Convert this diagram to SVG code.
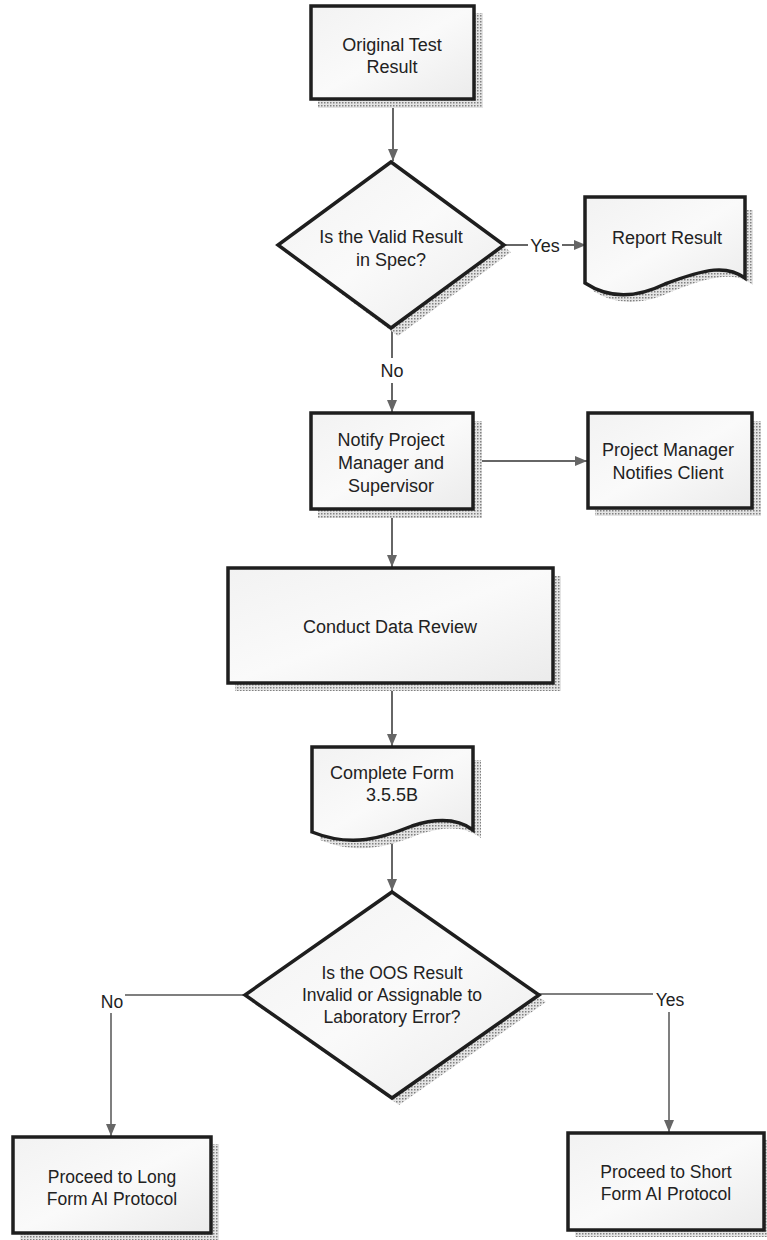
<svg xmlns="http://www.w3.org/2000/svg" width="767" height="1240" viewBox="0 0 767 1240">
<defs>
<style>
.box{fill:url(#fillg);stroke:#1e1e1e;stroke-width:3.5;stroke-linejoin:miter}
.shadow{fill:url(#dots);stroke:none}
.t{font-family:"Liberation Sans",Arial,sans-serif;font-size:18px;fill:#222;text-anchor:middle}
.t2{font-family:"Liberation Sans",Arial,sans-serif;font-size:17.5px;fill:#222;text-anchor:middle}
.c{stroke:#666;stroke-width:2;fill:none}
.thin{stroke:#555;stroke-width:1.5;fill:none}
</style>
<linearGradient id="fillg" x1="0" y1="0" x2="1" y2="1">
<stop offset="0" stop-color="#f2f2f2"/>
<stop offset="0.5" stop-color="#fafafa"/>
<stop offset="1" stop-color="#ebebeb"/>
</linearGradient>
<pattern id="dots" width="3" height="3" patternUnits="userSpaceOnUse">
<rect width="3" height="3" fill="#e4e4e4"/>
<rect width="1.5" height="1.5" fill="#808080"/>
</pattern>
<marker id="arr" viewBox="0 0 12 10" refX="12" refY="5" markerWidth="12" markerHeight="10" orient="auto" markerUnits="userSpaceOnUse">
<path d="M0,0 L12,5 L0,10 z" fill="#666"/>
</marker>
</defs>
<rect width="767" height="1240" fill="#fff"/>

<g id="connectors">
<line class="c" x1="393" y1="101" x2="393" y2="161" marker-end="url(#arr)"/>
<line class="c" x1="505" y1="245" x2="528" y2="245"/>
<line class="c" x1="562" y1="245" x2="586" y2="245" marker-end="url(#arr)"/>
<line class="c" x1="392" y1="330" x2="392" y2="358"/>
<line class="c" x1="392" y1="383" x2="392" y2="412" marker-end="url(#arr)"/>
<line class="c" x1="475" y1="461" x2="587" y2="461" marker-end="url(#arr)"/>
<line class="c" x1="392" y1="512" x2="392" y2="567" marker-end="url(#arr)"/>
<line class="c" x1="392" y1="685" x2="392" y2="746" marker-end="url(#arr)"/>
<line class="c" x1="392" y1="836" x2="392" y2="891" marker-end="url(#arr)"/>
<line class="thin" x1="245" y1="995" x2="125" y2="995"/>
<line class="thin" x1="111" y1="1013" x2="111" y2="1136" marker-end="url(#arr)"/>
<line class="thin" x1="539" y1="994" x2="653" y2="994"/>
<line class="thin" x1="669" y1="1012" x2="669" y2="1132" marker-end="url(#arr)"/>
<text class="t" x="545" y="252">Yes</text>
<text class="t" x="392" y="377">No</text>
<text class="t2" x="112" y="1008">No</text>
<text class="t2" x="670" y="1006">Yes</text>
</g>

<g id="original-test-result">
<rect class="shadow" x="318" y="13" width="165" height="95"/>
<rect class="box" x="311" y="6" width="163" height="93"/>
<text class="t" x="392" y="51">Original Test</text>
<text class="t" x="392" y="73">Result</text>
</g>

<g id="valid-in-spec">
<path class="shadow" d="M398,169 L511,252 L398,336 L285,252 z"/>
<path class="box" d="M391,162 L504,245 L391,328 L278,245 z"/>
<text class="t" x="391" y="243">Is the Valid Result</text>
<text class="t" x="391" y="266">in Spec?</text>
</g>

<g id="report-result">
<path class="shadow" d="M593,210 H753 V285 C735,272 715,275 673,291 Q628,313 593,291 z"/>
<path class="box" d="M585,197 H745 V278 C727,265 707,268 665,284 Q620,306 585,283 z"/>
<text class="t" x="667" y="244">Report Result</text>
</g>

<g id="notify-pm">
<rect class="shadow" x="318" y="421" width="164" height="97"/>
<rect class="box" x="311" y="413" width="162" height="96"/>
<text class="t" x="391" y="446">Notify Project</text>
<text class="t" x="391" y="469">Manager and</text>
<text class="t" x="391" y="492">Supervisor</text>
</g>

<g id="pm-notifies-client">
<rect class="shadow" x="595" y="421" width="166" height="95"/>
<rect class="box" x="588" y="413" width="164" height="95"/>
<text class="t" x="668" y="456">Project Manager</text>
<text class="t" x="668" y="479">Notifies Client</text>
</g>

<g id="conduct-data-review">
<rect class="shadow" x="235" y="576" width="326" height="115"/>
<rect class="box" x="228" y="568" width="325" height="115"/>
<text class="t" x="390" y="633">Conduct Data Review</text>
</g>

<g id="complete-form">
<path class="shadow" d="M320,760 H481 V838 C465,826 445,826 420,834 C390,846 360,856 320,840 z"/>
<path class="box" d="M312,747 H473 V830 C457,818 437,818 412,826 C382,838 352,848 312,832 z"/>
<text class="t" x="392" y="779">Complete Form</text>
<text class="t" x="392" y="801">3.5.5B</text>
</g>

<g id="oos-decision">
<path class="shadow" d="M399,899 L546,1002 L399,1105 L252,1002 z"/>
<path class="box" d="M392,892 L539,995 L392,1098 L245,995 z"/>
<text class="t2" x="392" y="979">Is the OOS Result</text>
<text class="t2" x="392" y="1001">Invalid or Assignable to</text>
<text class="t2" x="392" y="1023">Laboratory Error?</text>
</g>

<g id="long-form">
<rect class="shadow" x="20" y="1144" width="199" height="96"/>
<rect class="box" x="13" y="1137" width="198" height="96"/>
<text class="t2" x="112" y="1183">Proceed to Long</text>
<text class="t2" x="112" y="1205">Form AI Protocol</text>
</g>

<g id="short-form">
<rect class="shadow" x="575" y="1140" width="192" height="97"/>
<rect class="box" x="568" y="1133" width="196" height="97"/>
<text class="t2" x="666" y="1178">Proceed to Short</text>
<text class="t2" x="666" y="1200">Form AI Protocol</text>
</g>
</svg>
